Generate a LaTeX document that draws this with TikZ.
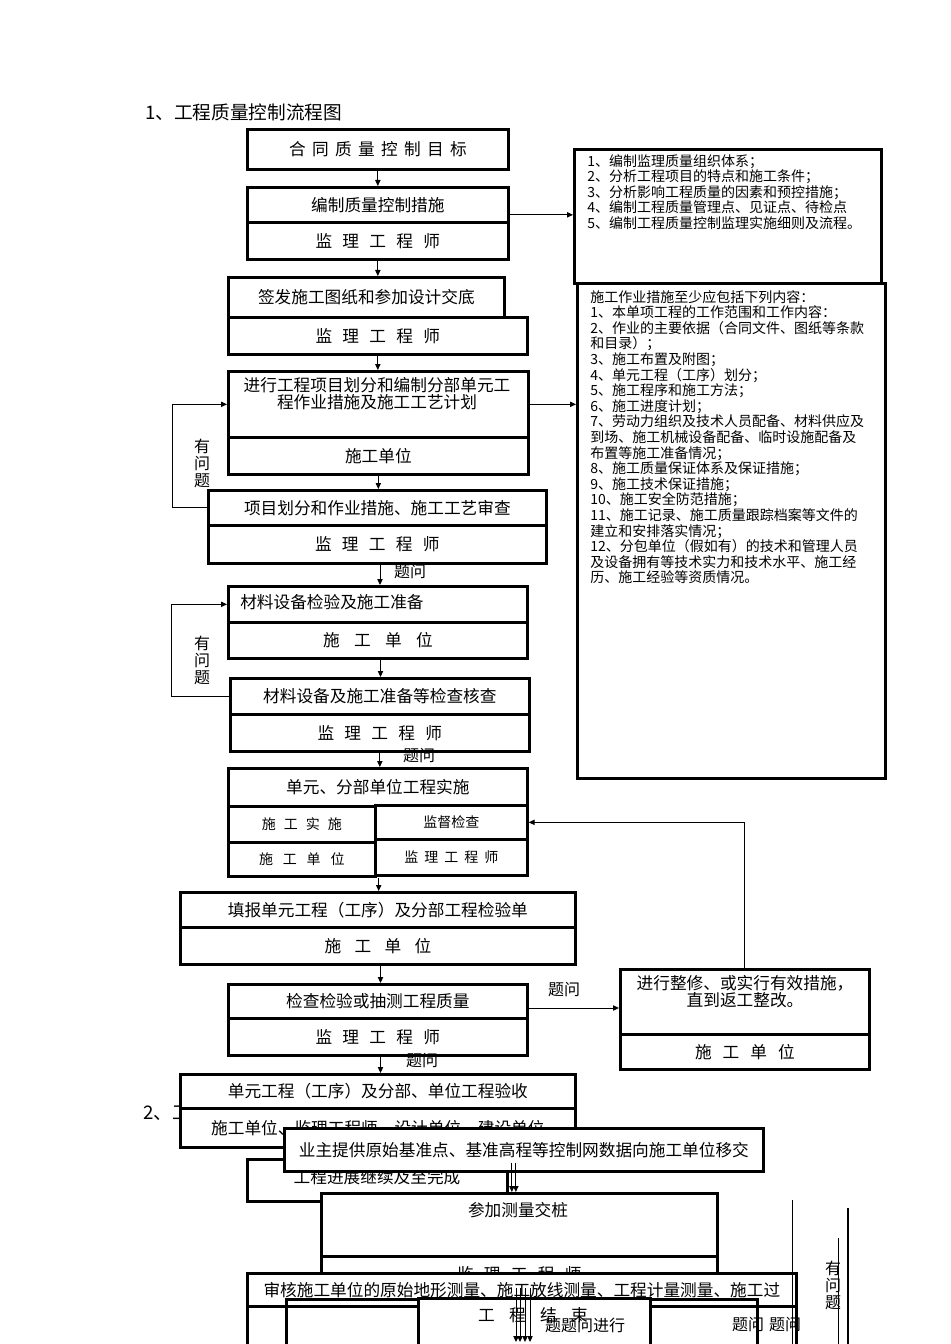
\documentclass[tikz,border=0pt]{standalone}
\usepackage{fontspec}
\setmainfont{Noto Sans CJK SC}
\usetikzlibrary{arrows.meta,positioning}
\newcommand{\kg}[1][0.62]{\hspace{#1em}}

\begin{document}
\begin{tikzpicture}[
  x=0.75pt, y=-0.75pt,
  font=\fontsize{12.5}{14}\selectfont,
  box/.style={draw, line width=2pt, fill=white, anchor=north west, inner sep=0pt, align=center},
  wh/.style 2 args={minimum width=#1*0.75pt, minimum height=#2*0.75pt},
  note/.style={anchor=north west, inner sep=0pt, align=left, font=\fontsize{10.5}{11.7}\selectfont},
  small/.style={font=\fontsize{10.5}{12}\selectfont},
  heading/.style={anchor=west, inner sep=0pt, font=\fontsize{14}{16}\selectfont},
  tag/.style={inner sep=0pt, align=center, font=\fontsize{12}{12.75}\selectfont},
  arrow/.style={-{Triangle[length=4.5pt,width=4pt]}, line width=0.7pt},
  wire/.style={line width=0.7pt}
]
\path[fill=white, use as bounding box] (0,0) rectangle (950,1344);

% part 1
\node[heading] (title) at (145,112) {1、工程质量控制流程图};
\node[box, wh={261}{40}] (aim) at (246,128) {合\kg[0.38]同\kg[0.38]质\kg[0.38]量\kg[0.38]控\kg[0.38]制\kg[0.38]目\kg[0.38]标};
\node[box, wh={261}{35}] (meas) at (246,186) {编制质量控制措施};
\node[box, wh={261}{37}] (measby) at (246,221) {监\kg 理\kg 工\kg 程\kg 师};

\node[box, wh={307}{134}] (scope) at (573,148) {};
\node[note] (scopetext) at (587,154) {1、编制监理质量组织体系；\\2、分析工程项目的特点和施工条件；\\3、分析影响工程质量的因素和预控措施；\\4、编制工程质量管理点、见证点、待检点\\5、编制工程质量控制监理实施细则及流程。};
\node[box, wh={308}{495}] (content) at (576,282) {};
\node[note] (contenttext) at (590,290) {施工作业措施至少应包括下列内容：\\1、本单项工程的工作范围和工作内容：\\2、作业的主要依据（合同文件、图纸等条款\\和目录）；\\3、施工布置及附图；\\4、单元工程（工序）划分；\\5、施工程序和施工方法；\\6、施工进度计划；\\7、劳动力组织及技术人员配备、材料供应及\\到场、施工机械设备配备、临时设施配备及\\布置等施工准备情况；\\8、施工质量保证体系及保证措施；\\9、施工技术保证措施；\\10、施工安全防范措施；\\11、施工记录、施工质量跟踪档案等文件的\\建立和安排落实情况；\\12、分包单位（假如有）的技术和管理人员\\及设备拥有等技术实力和技术水平、施工经\\历、施工经验等资质情况。};

\node[box, wh={276}{40}] (sign) at (227,276) {签发施工图纸和参加设计交底};
\node[box, wh={299}{37}] (signby) at (227,316) {监\kg 理\kg 工\kg 程\kg 师};
\node[box, wh={300}{66}] (plan) at (227,370) {};
\node[tag, anchor=north, font=\fontsize{12.5}{12.75}\selectfont] (plantext) at (377,377) {进行工程项目划分和编制分部单元工\\程作业措施及施工工艺计划};
\node[box, wh={300}{37}] (planby) at (227,436) {施工单位};
\node[box, wh={338}{35}] (review) at (207,489) {项目划分和作业措施、施工工艺审查};
\node[box, wh={338}{38}] (reviewby) at (207,524) {监\kg 理\kg 工\kg 程\kg 师};

\node[box, wh={299}{36}] (mat) at (227,585) {};
\node[anchor=west, inner sep=0pt] (mattext) at (240,602) {材料设备检验及施工准备};
\node[box, wh={299}{36}] (matby) at (227,621) {施\kg[0.86]工\kg[0.86]单\kg[0.86]位};
\node[box, wh={299}{36}] (chk) at (229,677) {材料设备及施工准备等检查核查};
\node[box, wh={299}{37}] (chkby) at (229,713) {监\kg 理\kg 工\kg 程\kg 师};

\node[box, wh={299}{38}] (impl) at (227,767) {单元、分部单位工程实施};
\node[box, small, wh={147}{36}] (implA) at (227,805) {施\kg[0.57]工\kg[0.57]实\kg[0.57]施};
\node[box, small, wh={147}{34}] (implB) at (227,841) {施\kg[0.7]工\kg[0.7]单\kg[0.7]位};
\node[box, small, wh={152}{34}] (implC) at (374,804) {监督检查};
\node[box, small, wh={152}{36}] (implD) at (374,838) {监\kg[0.43]理\kg[0.43]工\kg[0.43]程\kg[0.43]师};

\node[box, wh={395}{35}] (fill) at (179,891) {填报单元工程（工序）及分部工程检验单};
\node[box, wh={395}{37}] (fillby) at (179,926) {施\kg[0.8]工\kg[0.8]单\kg[0.8]位};
\node[box, wh={299}{34}] (test) at (227,983) {检查检验或抽测工程质量};
\node[box, wh={299}{37}] (testby) at (227,1017) {监\kg 理\kg 工\kg 程\kg 师};
\node[box, wh={249}{65}] (fix) at (619,968) {};
\node[tag, anchor=north, font=\fontsize{12.5}{12.75}\selectfont] (fixtext) at (745,975) {进行整修、或实行有效措施，\\直到返工整改。};
\node[box, wh={249}{35}] (fixby) at (619,1033) {施\kg[0.66]工\kg[0.66]单\kg[0.66]位};

% part 2
\node[heading] (title2) at (143,1113) {2、工};
\node[box, wh={395}{34}] (acc) at (179,1073) {单元工程（工序）及分部、单位工程验收};
\node[box, wh={395}{39}] (accby) at (179,1107) {施工单位、监理工程师、设计单位、建设单位};
\node[box, wh={260}{42}] (cont) at (246,1158) {};
\node[anchor=center, inner sep=0pt] (conttext) at (377,1177) {工程进展继续及至完成};
\node[box, wh={479}{43}] (owner) at (283,1127) {业主提供原始基准点、基准高程等控制网数据向施工单位移交};
\node[box, wh={396}{63}] (stake) at (320,1192) {};
\node[anchor=center, inner sep=0pt] (staketext) at (518,1210) {参加测量交桩};
\node[box, wh={396}{35}] (stakeby) at (320,1255) {监\kg 理\kg 工\kg 程\kg 师};
\node[box, wh={549}{45}] (auditlow) at (246,1305) {};
\node[box, wh={549}{33}] (audit) at (246,1272) {审核施工单位的原始地形测量、施工放线测量、工程计量测量、施工过};
\node[draw, line width=2pt, anchor=north west, inner sep=0pt, wh={471}{52}] (frame) at (285,1298) {};
\node[box, wh={232}{53}] (finish) at (417,1297) {};
\node[anchor=center, inner sep=0pt] (finishtext) at (533,1315) {工\kg[0.86]程\kg[0.86]结\kg[0.86]束};

% connectors
\draw[arrow] (aim.south) -- (aim.south |- meas.north);
\draw[arrow] ([yshift=-7.5pt]meas.east) -- ([yshift=-7.5pt]meas.east -| scope.west);
\draw[arrow] (measby.south) -- (measby.south |- sign.north);
\draw[arrow] (signby.south) -- (signby.south |- plan.north);
\draw[arrow] (plan.east) -- (plan.east -| content.west);
\draw[arrow] (planby.south) -- (planby.south |- review.north);
\coordinate (back1) at (172,0);
\draw[arrow] (review.west) -- (review.west -| back1) |- (plan.west);
\node[tag] (ask1) at (202,463) {有\\问\\题};
\draw[arrow] ([xshift=2pt]reviewby.south) -- ([xshift=2pt]reviewby.south |- mat.north);
\node[tag] (q1) at (410,572) {题问};
\draw[arrow] ([xshift=2pt]matby.south) -- ([xshift=2pt]matby.south |- chk.north);
\coordinate (back2) at (171,0);
\draw[arrow] (chk.west) -- (chk.west -| back2) |- (mat.west);
\node[tag] (ask2) at (202,660) {有\\问\\题};
\draw[arrow] (chkby.south) -- (chkby.south |- impl.north);
\node[tag] (q2) at (419,756) {题问};
\draw[arrow] ([xshift=1.5pt]implB.south east) -- ([xshift=1.5pt]implB.south east |- fill.north);
\draw[arrow] ([xshift=2pt]fillby.south) -- ([xshift=2pt]fillby.south |- test.north);
\draw[arrow] ([yshift=-5pt]test.east) -- ([yshift=-5pt]test.east -| fix.west);
\node[tag] (q3) at (564,990) {题问};
\draw[arrow] (fix.north) |- (implC.east);
\draw[arrow] ([xshift=2pt]testby.south) -- ([xshift=2pt]testby.south |- acc.north);
\node[tag] (q4) at (422,1061) {题问};

\draw[arrow] ([xshift=-9pt,yshift=7.5pt]owner.south) -- ([xshift=-9pt]owner.south |- stake.north);
\draw[arrow] ([xshift=-6pt,yshift=7.5pt]owner.south) -- ([xshift=-6pt]owner.south |- stake.north);
\coordinate (drop) at (516,1288);
\coordinate (dropend) at (516,1342);
\foreach \d in {0,3,6.75,10.5}
  \draw[arrow] ([xshift=\d pt]drop) -- ([xshift=\d pt]dropend);
\node[tag] (q5) at (585,1325) {题题问进行};
\node[tag] (q6) at (748,1325) {题问};
\node[tag] (q7) at (785,1325) {题问};

\coordinate (rise1) at (792,1200);
\coordinate (rise2) at (848,1208);
\coordinate (rise3) at (838,1238);
\draw[wire] (rise1) -- (rise1 |- auditlow.south);
\draw[line width=1.2pt] (rise2) -- (rise2 |- auditlow.south);
\draw[wire] (rise3) -- (rise3 |- auditlow.south);
\node[tag] (ask3) at (833,1285) {有\\问\\题};
\end{tikzpicture}
\end{document}
